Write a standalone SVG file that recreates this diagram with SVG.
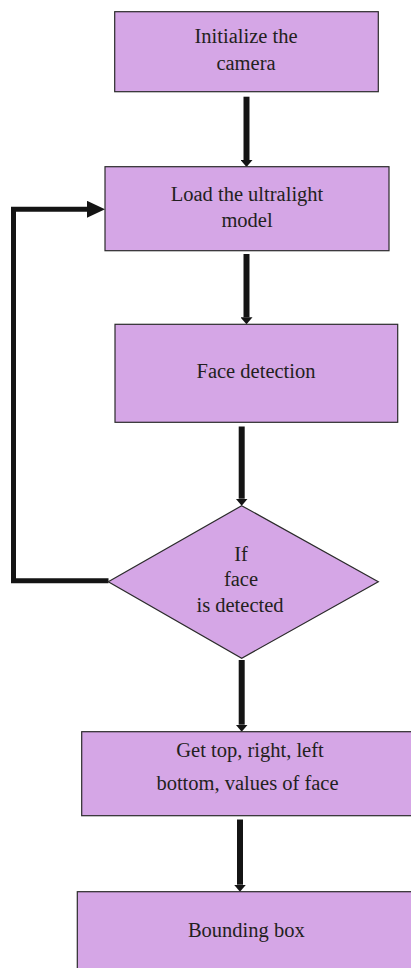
<svg xmlns="http://www.w3.org/2000/svg" width="411" height="968" viewBox="0 0 411 968">
  <defs>
    <style>
      .node { fill: #d5a6e6; stroke: #2b2b2b; stroke-width: 1.2; }
      .label { font-family: 'Liberation Serif', serif; font-size: 20.5px; fill: #231f20; text-anchor: middle; }
      .conn { fill: none; stroke: #141414; stroke-width: 6; }
      .loop { fill: none; stroke: #141414; stroke-width: 5; }
    </style>
    <marker id="head" markerUnits="userSpaceOnUse" viewBox="0 -6 7 12" refX="0" refY="0" markerWidth="7" markerHeight="12" orient="auto">
      <path d="M0,-6 L7,0 L0,6 z" fill="#141414"/>
    </marker>
    <marker id="bighead" markerUnits="userSpaceOnUse" viewBox="0 -8.5 18 17" refX="0" refY="0" markerWidth="18" markerHeight="17" orient="auto">
      <path d="M0,-8.5 L18,0 L0,8.5 z" fill="#141414"/>
    </marker>
  </defs>

  <g id="connectors">
    <path class="conn" d="M246.5,96.7 V160" marker-end="url(#head)"/>
    <path class="conn" d="M246.5,254 V317.3" marker-end="url(#head)"/>
    <path class="conn" d="M241.7,426.5 V498.7" marker-end="url(#head)"/>
    <path class="conn" d="M241.7,660 V724.7" marker-end="url(#head)"/>
    <path class="conn" d="M240,819.5 V884.7" marker-end="url(#head)"/>
    <path class="loop" d="M108.5,580.7 H13.5 V209.3 H87" marker-end="url(#bighead)"/>
  </g>

  <g id="node-init">
    <rect class="node" x="114.7" y="11.7" width="263.6" height="80"/>
    <text class="label" x="246" y="43.3" font-family="Liberation Serif, serif">Initialize the</text>
    <text class="label" x="246" y="70" font-family="Liberation Serif, serif">camera</text>
  </g>

  <g id="node-load">
    <rect class="node" x="105" y="166.7" width="284" height="84"/>
    <text class="label" x="247" y="200.7">Load the ultralight</text>
    <text class="label" x="247" y="226.7">model</text>
  </g>

  <g id="node-detect">
    <rect class="node" x="115" y="324.3" width="282.7" height="98"/>
    <text class="label" x="256" y="378.3">Face detection</text>
  </g>

  <g id="node-decision">
    <polygon class="node" points="241.7,505.7 378.3,581.7 241.7,658.3 108.3,581.7"/>
    <text class="label" x="241" y="560.7">If</text>
    <text class="label" x="241" y="585.7">face</text>
    <text class="label" x="240" y="611.7">is detected</text>
  </g>

  <g id="node-values">
    <rect class="node" x="81.7" y="731.7" width="340" height="84"/>
    <text class="label" x="250" y="756.7">Get top, right, left</text>
    <text class="label" x="247.5" y="790">bottom, values of face</text>
  </g>

  <g id="node-bbox">
    <rect class="node" x="77.3" y="891.7" width="345" height="90"/>
    <text class="label" x="246.3" y="936.7">Bounding box</text>
  </g>
</svg>
